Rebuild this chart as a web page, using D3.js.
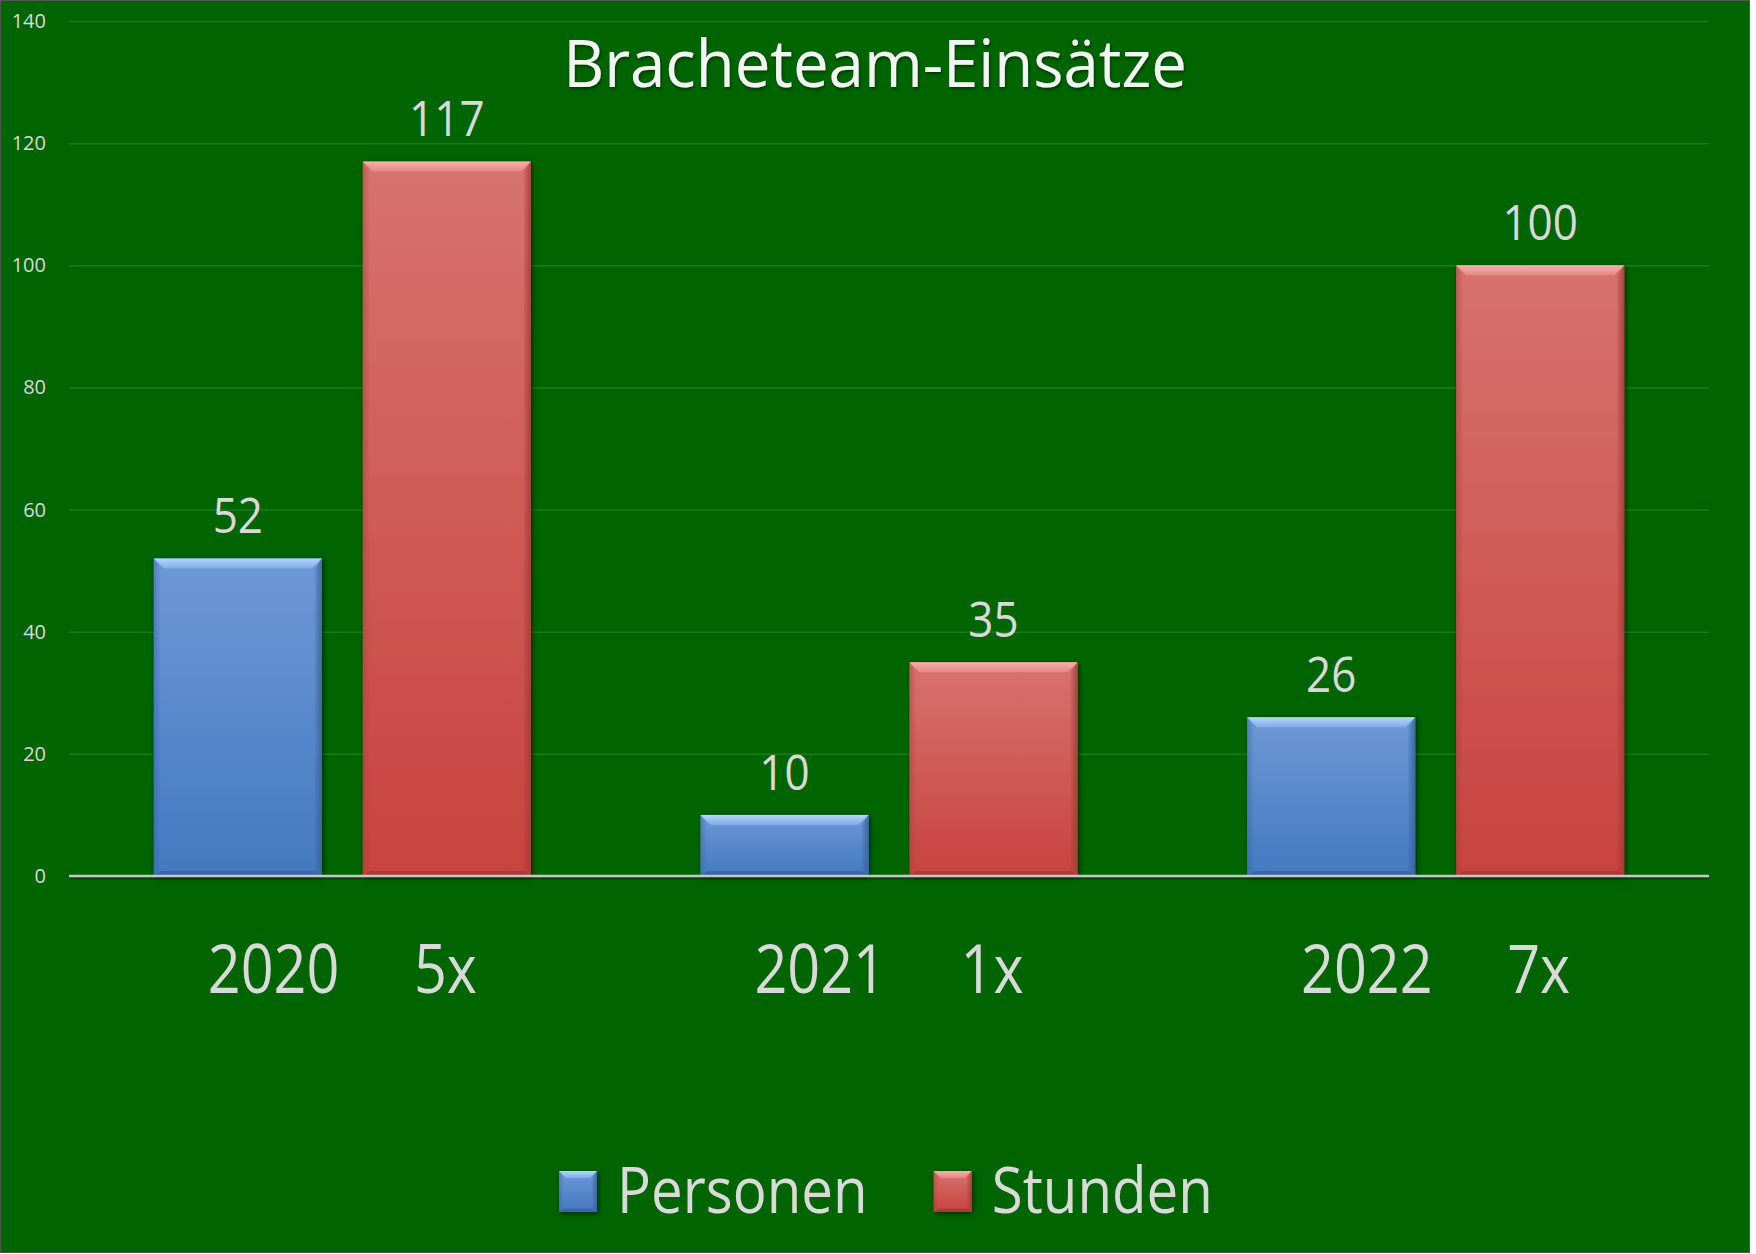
<!DOCTYPE html>
<html>
<head>
<meta charset="utf-8">
<script src="https://cdn.jsdelivr.net/npm/d3@7"></script>
<style>
  html, body { margin: 0; padding: 0; background: #ffffff; }
  svg { display: block; }
  text { font-family: "Open Sans", "Noto Sans", sans-serif; }
</style>
</head>
<body>
<svg id="chart" width="1756" height="1254"></svg>
<script>
// Bracheteam-Einsätze: Personen und Stunden je Jahr
const years = ["2020", "2021", "2022"];
const einsaetze = ["5x", "1x", "7x"];
const seriesNames = ["Personen", "Stunden"];
const personen = [52, 10, 26];
const stunden = [117, 35, 100];
const yTicks = [0, 20, 40, 60, 80, 100, 120, 140];

const seriesValues = { Personen: personen, Stunden: stunden };
const rows = years.map((year, i) => ({
  year,
  label: year + "\u00a0\u00a0\u00a0\u00a0\u00a0" + einsaetze[i],
  bars: seriesNames.map(name => ({ name, value: seriesValues[name][i] }))
}));

const W = 1756, H = 1254;
const frameW = 1750, frameH = 1253;
const plot = { left: 69, right: 1709, top: 21, bottom: 876 };

const svg = d3.select("#chart");
const defs = svg.append("defs");

// palette per series: body gradient, bevel highlight, edge shade
const palette = {
  Personen: { top: "#6d98d7", bottom: "#4479c1", hiTop: "#b4d6fb", hiBot: "#80acE6", edge: "#36609c", dark: "#2d568f" },
  Stunden:  { top: "#d7726f", bottom: "#c8433f", hiTop: "#f9aeab", hiBot: "#e38884", edge: "#a53936", dark: "#93302d" }
};

seriesNames.forEach(name => {
  const p = palette[name];
  const body = defs.append("linearGradient").attr("id", "body-" + name)
    .attr("x1", 0).attr("y1", 0).attr("x2", 0).attr("y2", 1);
  body.append("stop").attr("offset", "0%").attr("stop-color", p.top);
  body.append("stop").attr("offset", "100%").attr("stop-color", p.bottom);

  const hi = defs.append("linearGradient").attr("id", "hi-" + name)
    .attr("x1", 0).attr("y1", 0).attr("x2", 0).attr("y2", 1);
  hi.append("stop").attr("offset", "0%").attr("stop-color", p.hiTop);
  hi.append("stop").attr("offset", "100%").attr("stop-color", p.hiBot);

  const right = defs.append("linearGradient").attr("id", "right-" + name)
    .attr("x1", 0).attr("y1", 0).attr("x2", 1).attr("y2", 0);
  right.append("stop").attr("offset", "0%").attr("stop-color", p.edge).attr("stop-opacity", 0.15);
  right.append("stop").attr("offset", "100%").attr("stop-color", p.edge).attr("stop-opacity", 0.85);

  const left = defs.append("linearGradient").attr("id", "left-" + name)
    .attr("x1", 0).attr("y1", 0).attr("x2", 1).attr("y2", 0);
  left.append("stop").attr("offset", "0%").attr("stop-color", p.edge).attr("stop-opacity", 0.45);
  left.append("stop").attr("offset", "100%").attr("stop-color", p.edge).attr("stop-opacity", 0.0);
});

const shadow = defs.append("filter").attr("id", "barShadow")
  .attr("x", "-10%").attr("y", "-10%").attr("width", "130%").attr("height", "130%");
shadow.append("feDropShadow").attr("dx", 1.5).attr("dy", 1.5).attr("stdDeviation", 2.5)
  .attr("flood-color", "#000").attr("flood-opacity", 0.6);

const titleShadow = defs.append("filter").attr("id", "titleShadow")
  .attr("x", "-5%").attr("y", "-20%").attr("width", "110%").attr("height", "150%");
titleShadow.append("feDropShadow").attr("dx", 1).attr("dy", 2).attr("stdDeviation", 1.5)
  .attr("flood-color", "#000").attr("flood-opacity", 0.45);

// background frame
svg.append("rect").attr("x", 0.5).attr("y", 0.5)
  .attr("width", frameW - 1).attr("height", frameH - 1)
  .attr("fill", "#006400").attr("stroke", "#4d5a4d").attr("stroke-width", 1);

// scales
const x0 = d3.scaleBand().domain(years).range([plot.left, plot.right]).padding(0);
const x1 = d3.scaleBand().domain(seriesNames).range([0, x0.bandwidth()])
  .paddingInner(0.196).paddingOuter(0.406);
const y = d3.scaleLinear().domain([0, 140]).range([plot.bottom, plot.top]);

// gridlines
const grid = svg.append("g").attr("class", "grid")
  .call(d3.axisLeft(y).tickValues(yTicks).tickSize(-(plot.right - plot.left)).tickFormat(""))
  .attr("transform", `translate(${plot.left},0)`);
grid.select(".domain").remove();
grid.selectAll(".tick line").attr("stroke", "#1f7a1f").attr("stroke-width", 1.5);

// y tick labels
svg.append("g").attr("class", "y-labels")
  .selectAll("text").data(yTicks).join("text")
  .attr("x", 46).attr("y", d => y(d)).attr("dy", "0.35em")
  .attr("text-anchor", "end").attr("font-size", 20).attr("fill", "#d9d9d9")
  .text(d => d);

// bevel-shaded bar
function drawBar(g, name, bx, by, bw, bh, b) {
  g.append("rect").attr("x", bx).attr("y", by).attr("width", bw).attr("height", bh)
    .attr("fill", `url(#body-${name})`).attr("filter", "url(#barShadow)");
  const bv = Math.min(b, bh / 2);
  const sv = Math.min(b * 0.7, bw / 4);
  // left edge
  g.append("polygon").attr("points", [
    [bx, by], [bx + sv, by + bv], [bx + sv, by + bh - bv * 0.5], [bx, by + bh]
  ].join(" ")).attr("fill", `url(#left-${name})`);
  // right edge
  g.append("polygon").attr("points", [
    [bx + bw, by], [bx + bw - sv, by + bv], [bx + bw - sv, by + bh - bv * 0.5], [bx + bw, by + bh]
  ].join(" ")).attr("fill", `url(#right-${name})`);
  // bottom edge
  g.append("polygon").attr("points", [
    [bx, by + bh], [bx + sv, by + bh - bv * 0.5], [bx + bw - sv, by + bh - bv * 0.5], [bx + bw, by + bh]
  ].join(" ")).attr("fill", palette[name].dark).attr("opacity", 0.55);
  // top highlight
  g.append("polygon").attr("points", [
    [bx, by], [bx + bw, by], [bx + bw - bv, by + bv], [bx + bv, by + bv]
  ].join(" ")).attr("fill", `url(#hi-${name})`);
}

// bars
const groups = svg.append("g").attr("class", "bars")
  .selectAll("g").data(rows).join("g")
  .attr("transform", d => `translate(${x0(d.year)},0)`);

groups.each(function (row) {
  const g = d3.select(this);
  row.bars.forEach(bar => {
    const bx = x1(bar.name), bw = x1.bandwidth();
    const by = y(bar.value), bh = y(0) - y(bar.value);
    drawBar(g.append("g"), bar.name, bx, by, bw, bh, 10);
  });
});

// zero axis
svg.append("line").attr("x1", plot.left).attr("x2", plot.right)
  .attr("y1", y(0) + 2.5).attr("y2", y(0) + 2.5)
  .attr("stroke", "#003000").attr("stroke-width", 2).attr("opacity", 0.6);
svg.append("line").attr("x1", plot.left).attr("x2", plot.right)
  .attr("y1", y(0)).attr("y2", y(0))
  .attr("stroke", "#c6c6c6").attr("stroke-width", 2.5);

// text with a vertical stretch about its baseline
function stretched(parent, x, yPos, k) {
  return parent.append("g").attr("transform", `translate(${x},${yPos}) scale(1,${k})`)
    .append("text").attr("x", 0).attr("y", 0);
}

// value labels
groups.each(function (row) {
  const g = d3.select(this);
  row.bars.forEach(bar => {
    stretched(g, x1(bar.name) + x1.bandwidth() / 2, y(bar.value) - 25, 1.11)
      .attr("text-anchor", "middle").attr("font-size", 44).attr("fill", "#d9d9d9")
      .text(bar.value);
  });
});

// category labels
groups.each(function (row) {
  stretched(d3.select(this), x0.bandwidth() / 2, 993, 1.17)
    .attr("text-anchor", "middle").attr("font-size", 57.5).attr("fill", "#d9d9d9")
    .text(row.label);
});

// title
stretched(svg, frameW / 2, 87, 1.03)
  .attr("text-anchor", "middle").attr("font-size", 63.5).attr("fill", "#f4f4f4")
  .attr("filter", "url(#titleShadow)")
  .text("Bracheteam-Einsätze");

// legend
const legend = svg.append("g").attr("class", "legend");
const sw = 38, sh = 41, swGap = 20, itemGap = 66, legendBase = 1213;
let cursor = 0;
const items = seriesNames.map(name => {
  const item = legend.append("g");
  drawBar(item.append("g"), name, cursor, legendBase - sh - 1, sw, sh, 7);
  const t = stretched(item, cursor + sw + swGap, legendBase, 1.12)
    .attr("font-size", 56.5).attr("fill", "#d9d9d9").text(name);
  cursor += sw + swGap + t.node().getComputedTextLength() + itemGap;
  return item;
});
const legendWidth = cursor - itemGap;
legend.attr("transform", `translate(${886 - legendWidth / 2},0)`);
</script>
</body>
</html>
